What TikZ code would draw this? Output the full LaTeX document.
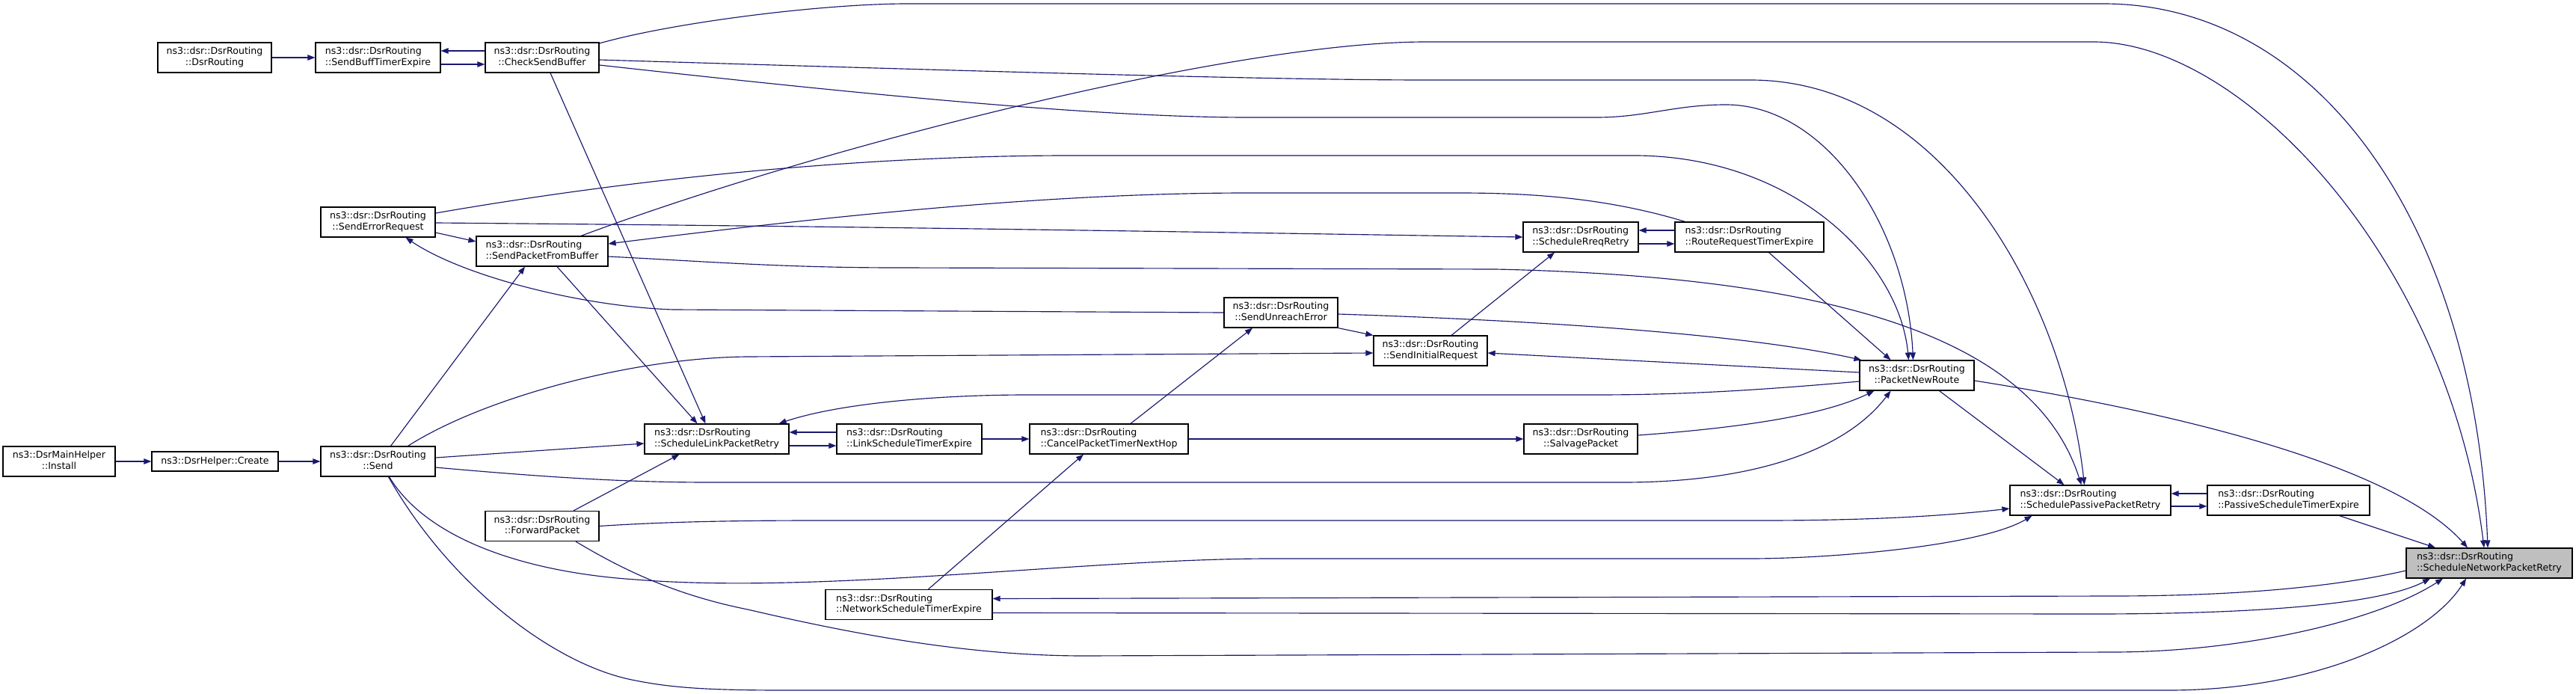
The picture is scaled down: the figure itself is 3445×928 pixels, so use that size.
\documentclass[tikz,border=0pt]{standalone}
\usepackage{fontspec}
\setmainfont{DejaVu Sans}
\usetikzlibrary{arrows.meta,backgrounds}
\definecolor{edgecol}{HTML}{191970}
\definecolor{subjgray}{HTML}{BFBFBF}
\newcommand\lbl[2]{\begin{tabular}{@{}l@{}}#1\\\multicolumn{1}{@{}c@{}}{#2}\end{tabular}}
\tikzset{
  box/.style={draw=black, line width=1.2pt, fill=white, inner sep=0pt, minimum height=40pt,
    font=\fontsize{12.6}{14.3}\selectfont, text=black},
  edge/.style={draw=edgecol, line width=1.15pt, -{Triangle[length=10pt,width=7.5pt]}}
}
\begin{document}
\begin{tikzpicture}[x=1pt,y=-1pt]
\useasboundingbox (0,0) rectangle (3445,928);
\node[box, minimum width=150pt] (A) at (79,617) {\lbl{ns3::DsrMainHelper}{::Install}};
\node[box, minimum width=169pt, minimum height=26pt] (B) at (287.5,617) {ns3::DsrHelper::Create};
\node[box, minimum width=153pt] (C) at (505.5,617) {\lbl{ns3::dsr::DsrRouting}{::Send}};
\node[box, minimum width=152pt] (D) at (287,77) {\lbl{ns3::dsr::DsrRouting}{::DsrRouting}};
\node[box, minimum width=167pt] (E) at (505.5,77) {\lbl{ns3::dsr::DsrRouting}{::SendBuffTimerExpire}};
\node[box, minimum width=152pt] (F) at (725,77) {\lbl{ns3::dsr::DsrRouting}{::CheckSendBuffer}};
\node[box, minimum width=153pt] (G) at (505.5,297) {\lbl{ns3::dsr::DsrRouting}{::SendErrorRequest}};
\node[box, minimum width=176pt] (H) at (725,336) {\lbl{ns3::dsr::DsrRouting}{::SendPacketFromBuffer}};
\node[box, minimum width=152pt] (I) at (725,703.5) {\lbl{ns3::dsr::DsrRouting}{::ForwardPacket}};
\node[box, minimum width=193pt] (J) at (958.5,587) {\lbl{ns3::dsr::DsrRouting}{::ScheduleLinkPacketRetry}};
\node[box, minimum width=223pt] (K) at (1215.5,808.5) {\lbl{ns3::dsr::DsrRouting}{::NetworkScheduleTimerExpire}};
\node[box, minimum width=194pt] (L) at (1216,587) {\lbl{ns3::dsr::DsrRouting}{::LinkScheduleTimerExpire}};
\node[box, minimum width=212pt] (M) at (1483,587) {\lbl{ns3::dsr::DsrRouting}{::CancelPacketTimerNextHop}};
\node[box, minimum width=152pt] (N) at (1713,418) {\lbl{ns3::dsr::DsrRouting}{::SendUnreachError}};
\node[box, minimum width=152pt] (O) at (1913,469) {\lbl{ns3::dsr::DsrRouting}{::SendInitialRequest}};
\node[box, minimum width=154pt] (P) at (2114,317) {\lbl{ns3::dsr::DsrRouting}{::ScheduleRreqRetry}};
\node[box, minimum width=152pt] (Q) at (2114,587) {\lbl{ns3::dsr::DsrRouting}{::SalvagePacket}};
\node[box, minimum width=199pt] (R) at (2339.5,317) {\lbl{ns3::dsr::DsrRouting}{::RouteRequestTimerExpire}};
\node[box, minimum width=153pt] (S) at (2563.5,502) {\lbl{ns3::dsr::DsrRouting}{::PacketNewRoute}};
\node[box, minimum width=215pt] (T) at (2795.5,669) {\lbl{ns3::dsr::DsrRouting}{::SchedulePassivePacketRetry}};
\node[box, minimum width=217pt] (U) at (3060.5,669) {\lbl{ns3::dsr::DsrRouting}{::PassiveScheduleTimerExpire}};
\node[box, fill=subjgray, minimum width=222pt] (V) at (3329,753) {\lbl{ns3::dsr::DsrRouting}{::ScheduleNetworkPacketRetry}};
\begin{pgfonlayer}{background}
\fill[white] (0,0) rectangle (3445,928);
\draw[edge] (A.east) -- (B.west);
\draw[edge] (B.east) -- (C.west);
\draw[edge] (D.east) -- (E.west);
\draw[edge] ([yshift=9pt]F.west) -- ([yshift=9pt]E.east);
\draw[edge] ([yshift=-9pt]E.east) -- ([yshift=-9pt]F.west);
% F -> V (top route)
\draw[edge] ([yshift=19pt]F.east) .. controls (900,30) and (1100,5) .. (1214,5) -- (2813,5) .. controls (3100,5) and (3310,300) .. ([xshift=-2pt]V.north);
% H -> V
\draw[edge] ([xshift=52pt]H.north) .. controls (1100,195) and (1650,56) .. (1907,56) -- (2800,56) .. controls (3000,56) and (3275,350) .. ([xshift=-7pt]V.north);
% F -> T
\draw[edge] ([yshift=-3pt]F.east) .. controls (1300,95) and (1700,107) .. (1907,107) -- (2341,107) .. controls (2600,107) and (2760,400) .. ([xshift=-8pt]T.north);
% F -> S
\draw[edge] ([yshift=-10pt]F.east) .. controls (1100,120) and (1450,157) .. (1669,157) -- (2135,157) .. controls (2200,157) and (2240,140) .. (2308,140) .. controls (2440,140) and (2550,300) .. ([xshift=-5pt]S.north);
% G -> S
\draw[edge] ([yshift=12pt]G.east) .. controls (900,230) and (1200,208) .. (1430,208) -- (2189,208) .. controls (2400,210) and (2540,350) .. ([xshift=-11pt]S.north);
% R -> H
\draw[edge] ([xshift=-86pt]R.north) .. controls (2150,265) and (2050,258) .. (1951,258) -- (1669,258) .. controls (1400,258) and (1100,290) .. ([yshift=10pt]H.east);
% G -> P
\draw[edge] ([yshift=-1pt]G.east) .. controls (1200,303) and (1700,312) .. (P.west);
% G -> H
\draw[edge] ([yshift=-14pt]G.east) -- ([yshift=13pt]H.west);
% N -> G
\draw[edge] (N.west) -- (900,414) .. controls (780,410) and (620,370) .. ([xshift=37pt]G.south);
% C -> H
\draw[edge] ([xshift=17pt]C.north) -- ([xshift=-23pt]H.south);
% H -> J
\draw[edge] ([xshift=20pt]H.south) -- ([xshift=-26pt]J.north);
% F -> J
\draw[edge] ([xshift=11pt]F.south) -- ([xshift=-15pt]J.north);
% C -> O
\draw[edge] ([xshift=40pt]C.north) .. controls (650,530) and (850,478) .. (1000,477) -- ([yshift=-3pt]O.west);
% C -> J
\draw[edge] ([yshift=5pt]C.east) -- ([yshift=-6pt]J.west);
% C -> S
\draw[edge] ([yshift=-8pt]C.east) .. controls (750,640) and (850,645) .. (950,645) -- (2170,645) .. controls (2350,645) and (2470,600) .. ([xshift=-35pt]S.south);
% I -> J
\draw[edge] ([xshift=42pt]I.north) -- ([xshift=-50pt]J.south);
% I -> T
\draw[edge] (I.east) .. controls (900,697) and (1000,696) .. (1100,696) -- (2356,696) .. controls (2500,696) and (2600,690) .. ([yshift=-11pt]T.west);
% C -> T
\draw[edge] ([xshift=15pt]C.south) .. controls (570,720) and (700,765) .. (850,775) .. controls (1100,795) and (1450,747) .. (1700,747) -- (2340,747) .. controls (2450,747) and (2650,730) .. ([xshift=-78pt]T.south);
% I -> V
\draw[edge] ([xshift=45pt]I.south) .. controls (830,760) and (900,795) .. (1000,815) .. controls (1150,850) and (1300,877) .. (1450,877) -- (2824,872) .. controls (3000,872) and (3180,830) .. ([xshift=-62pt]V.south);
% C -> V
\draw[edge] ([xshift=14pt]C.south) .. controls (600,780) and (740,890) .. (850,910) .. controls (900,920) and (950,923) .. (1050,923) -- (2900,923) .. controls (3100,923) and (3250,850) .. ([xshift=-31pt]V.south);
% K -> V
\draw[edge] ([yshift=-11pt]K.east) -- (2800,821) .. controls (3000,821) and (3180,810) .. ([xshift=-79pt]V.south);
% V -> K
\draw[edge] ([yshift=-10pt]V.west) .. controls (3100,790) and (2950,797) .. (2824,797) -- ([yshift=8pt]K.east);
% K -> M
\draw[edge] ([xshift=26pt]K.north) -- ([xshift=-34pt]M.south);
% J <-> L
\draw[edge] ([yshift=-9pt]J.east) -- ([yshift=-9pt]L.west);
\draw[edge] ([yshift=9pt]L.west) -- ([yshift=9pt]J.east);
\draw[edge] (L.east) -- (M.west);
\draw[edge] (M.east) -- (Q.west);
\draw[edge] ([xshift=29pt]M.north) -- ([xshift=-38pt]N.south);
\draw[edge] (N.south east) -- (O.north west);
\draw[edge] ([yshift=-2pt]N.east) .. controls (2100,430) and (2350,450) .. ([xshift=3pt]S.north west);
\draw[edge] ([yshift=4pt]S.west) -- ([yshift=-3pt]O.east);
\draw[edge] ([xshift=28pt]O.north) -- ([xshift=-35pt]P.south);
\draw[edge] ([yshift=9pt]R.west) -- ([yshift=9pt]P.east);
\draw[edge] ([yshift=-9pt]P.east) -- ([yshift=-9pt]R.west);
\draw[edge] ([xshift=26pt]R.south) -- ([xshift=-35pt]S.north);
\draw[edge] ([yshift=5pt]Q.east) .. controls (2330,572) and (2440,555) .. ([xshift=20pt]S.south west);
\draw[edge] ([yshift=-8pt]S.west) .. controls (2350,522) and (2250,528) .. (2134,528) -- (1374,528) .. controls (1250,528) and (1120,540) .. ([xshift=-14pt]J.north east);
\draw[edge] ([xshift=30pt]S.south) -- ([xshift=-35pt]T.north);
% H -> T
\draw[edge] ([yshift=-7pt]H.east) .. controls (950,350) and (1050,358) .. (1200,358) -- (2000,360) .. controls (2450,370) and (2720,450) .. ([xshift=-12pt]T.north);
% S -> V
\draw[edge] ([yshift=-7pt]S.east) .. controls (2900,550) and (3200,620) .. ([xshift=-29pt]V.north);
% U -> V
\draw[edge] ([xshift=68pt]U.south) -- ([xshift=-72pt]V.north);
% T <-> U
\draw[edge] ([yshift=-8pt]T.east) -- ([yshift=-8pt]U.west);
\draw[edge] ([yshift=9pt]U.west) -- ([yshift=9pt]T.east);
\end{pgfonlayer}
\end{tikzpicture}
\end{document}
